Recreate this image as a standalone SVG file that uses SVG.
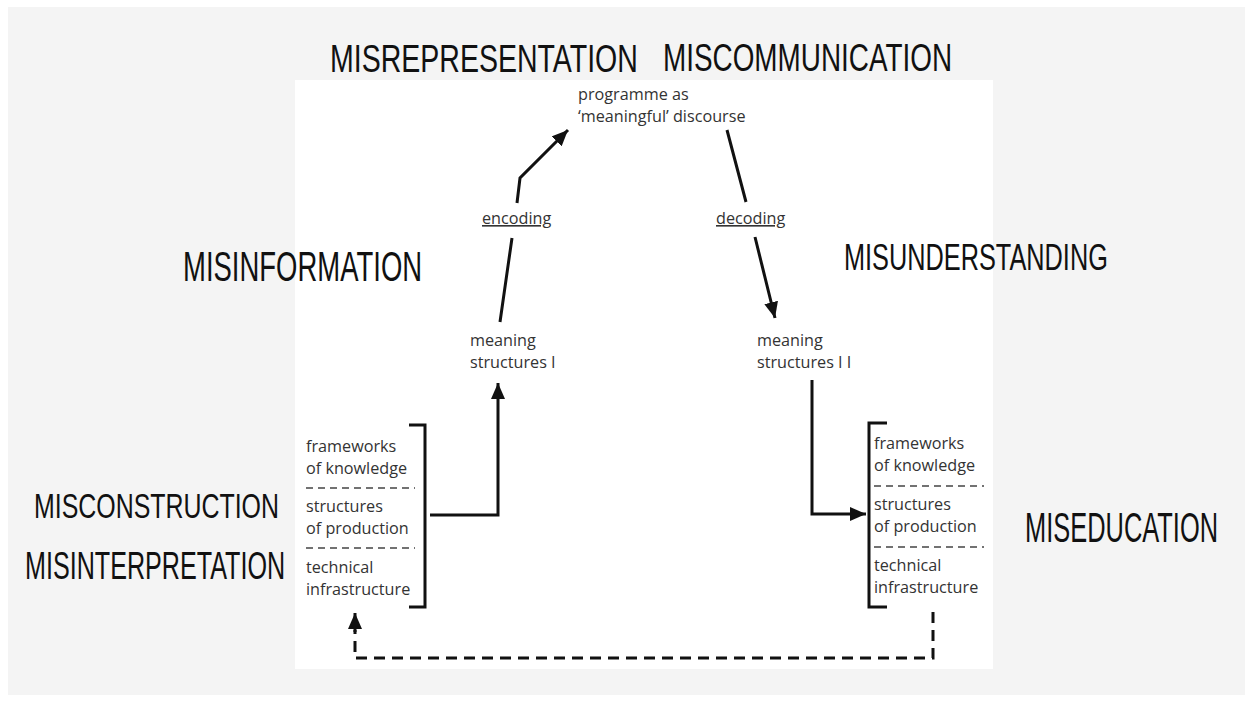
<svg xmlns="http://www.w3.org/2000/svg" width="1252" height="701" viewBox="0 0 1252 701">
<style>
.mis{font-family:"Liberation Sans",Arial,sans-serif;fill:#111;}
.t{font-family:"Open Sans","Noto Sans","DejaVu Sans",sans-serif;font-size:16.2px;fill:#333;}
.u{text-decoration:underline;}
.ln{fill:none;stroke:#111;stroke-width:3;}
.dash{fill:none;stroke:#111;stroke-width:3;stroke-dasharray:11 7;}
.sep{fill:none;stroke:#444;stroke-width:1.6;stroke-dasharray:7 5;}
</style>
<defs>
<marker id="ah" markerUnits="userSpaceOnUse" markerWidth="18" markerHeight="14" refX="16" refY="7" orient="auto">
<path d="M0,0 L16,7 L0,14 z" fill="#111"/>
</marker>
</defs>
<rect x="0" y="0" width="1252" height="701" fill="#ffffff"/>
<rect x="8" y="7" width="1237" height="688" fill="#f4f4f4"/>
<rect x="295" y="80" width="698" height="589" fill="#ffffff"/>

<g id="mis-labels">
<text class="mis" transform="translate(330,72) scale(0.740,1)" font-size="38" textLength="416" lengthAdjust="spacingAndGlyphs">MISREPRESENTATION</text>
<text class="mis" transform="translate(663,71) scale(0.728,1)" font-size="38" textLength="397" lengthAdjust="spacingAndGlyphs">MISCOMMUNICATION</text>
<text class="mis" transform="translate(183,281) scale(0.648,1)" font-size="42" textLength="369" lengthAdjust="spacingAndGlyphs">MISINFORMATION</text>
<text class="mis" transform="translate(844,270) scale(0.680,1)" font-size="37" textLength="388" lengthAdjust="spacingAndGlyphs">MISUNDERSTANDING</text>
<text class="mis" transform="translate(34,518) scale(0.692,1)" font-size="36" textLength="354" lengthAdjust="spacingAndGlyphs">MISCONSTRUCTION</text>
<text class="mis" transform="translate(25,579) scale(0.652,1)" font-size="38" textLength="399" lengthAdjust="spacingAndGlyphs">MISINTERPRETATION</text>
<text class="mis" transform="translate(1025,542) scale(0.585,1)" font-size="43" textLength="330" lengthAdjust="spacingAndGlyphs">MISEDUCATION</text>
</g>

<g id="programme">
<text class="t" x="578" y="100">programme as<tspan x="578" dy="22.2">‘meaningful’ discourse</tspan></text>
</g>

<g id="encoding-label"><text class="t u" x="482" y="224">encoding</text></g>
<g id="decoding-label"><text class="t u" x="716" y="224">decoding</text></g>

<g id="meaning1">
<text class="t" x="470" y="346">meaning<tspan x="470" dy="22.2">structures I</tspan></text>
</g>
<g id="meaning2">
<text class="t" x="757" y="346">meaning<tspan x="757" dy="22.2">structures I I</tspan></text>
</g>

<g id="left-box">
<path class="ln" d="M409,425 L425,425 L425,607 L409,607"/>
<text class="t" x="306" y="452">frameworks<tspan x="306" dy="22.2">of knowledge</tspan></text>
<line class="sep" x1="306" y1="488" x2="415" y2="488"/>
<text class="t" x="306" y="512">structures<tspan x="306" dy="22.2">of production</tspan></text>
<line class="sep" x1="306" y1="548" x2="415" y2="548"/>
<text class="t" x="306" y="573">technical<tspan x="306" dy="22.2">infrastructure</tspan></text>
</g>

<g id="right-box">
<path class="ln" d="M887,423 L869,423 L869,607 L887,607"/>
<text class="t" x="874" y="449">frameworks<tspan x="874" dy="22.2">of knowledge</tspan></text>
<line class="sep" x1="874" y1="486" x2="984" y2="486"/>
<text class="t" x="874" y="510">structures<tspan x="874" dy="22.2">of production</tspan></text>
<line class="sep" x1="874" y1="547" x2="984" y2="547"/>
<text class="t" x="874" y="571">technical<tspan x="874" dy="22.2">infrastructure</tspan></text>
</g>

<g id="connectors">
<path class="ln" d="M500,322 L512,238 M517,203 L520,178 L568,130" marker-end="url(#ah)"/>
<path class="ln" d="M727,130 L746,202 M755,237 L775,318" marker-end="url(#ah)"/>
<path class="ln" d="M430,515 L498,515 L498,383" marker-end="url(#ah)"/>
<path class="ln" d="M812,380 L812,514 L866,514" marker-end="url(#ah)"/>
<path class="dash" d="M933,612 L933,658 L355,658 L355,630"/>
<path class="ln" d="M355,632 L355,613" marker-end="url(#ah)"/>
</g>
</svg>
